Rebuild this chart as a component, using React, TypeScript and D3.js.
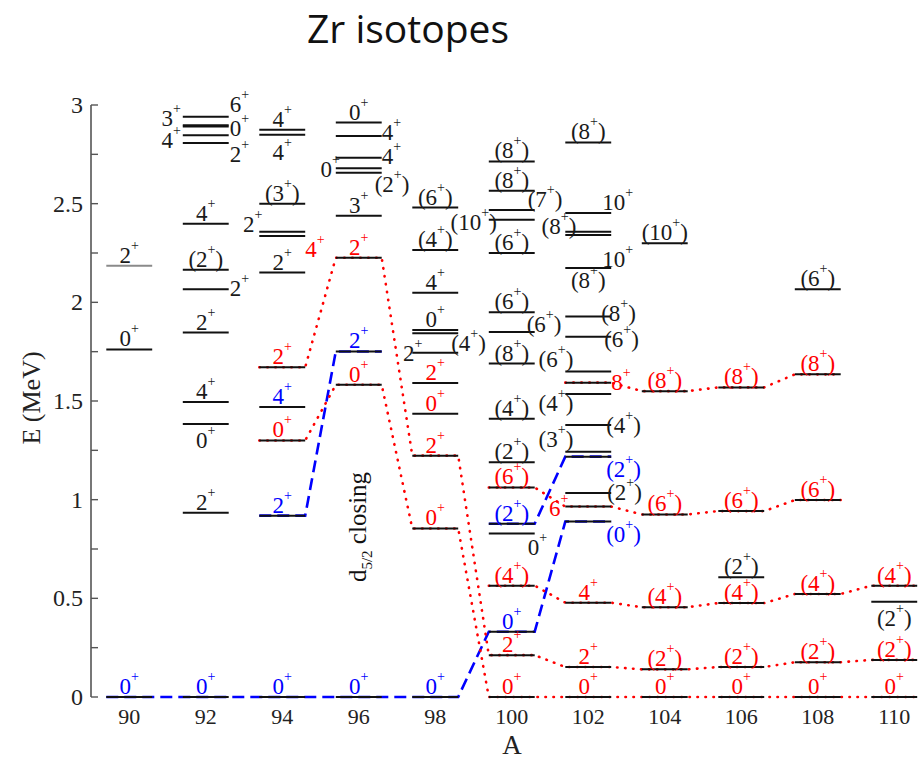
import React from "react";
import * as d3 from "d3";

type Band = "k" | "r" | "b";
type Level = [number, number, string, Band];
type Side = "a" | "b" | "l" | "r";

// Mass numbers along the horizontal axis
const massNumbers = [90, 92, 94, 96, 98, 100, 102, 104, 106, 108, 110];
const energyTicks = [0, 0.5, 1, 1.5, 2, 2.5, 3];

// Level energies (MeV), spin-parity and band colour per isotope
const zr90: Level[] = [
  [90, 0, "0+", "b"],
  [90, 1.761, "0+", "k"],
  [90, 2.186, "2+", "k"],
];
const zr92: Level[] = [
  [92, 0, "0+", "b"],
  [92, 0.934, "2+", "k"],
  [92, 1.383, "0+", "k"],
  [92, 1.495, "4+", "k"],
  [92, 1.847, "2+", "k"],
  [92, 2.066, "2+", "k"],
  [92, 2.165, "(2+)", "k"],
  [92, 2.398, "4+", "k"],
  [92, 2.807, "2+", "k"],
  [92, 2.847, "4+", "k"],
  [92, 2.891, "0+", "k"],
  [92, 2.897, "3+", "k"],
  [92, 2.941, "6+", "k"],
];
const zr94: Level[] = [
  [94, 0, "0+", "b"],
  [94, 0.919, "2+", "b"],
  [94, 1.3, "0+", "r"],
  [94, 1.47, "4+", "b"],
  [94, 1.671, "2+", "r"],
  [94, 2.151, "2+", "k"],
  [94, 2.336, "4+", "r"],
  [94, 2.358, "2+", "k"],
  [94, 2.5, "(3+)", "k"],
  [94, 2.849, "4+", "k"],
  [94, 2.874, "4+", "k"],
];
const zr96: Level[] = [
  [96, 0, "0+", "b"],
  [96, 1.582, "0+", "r"],
  [96, 1.751, "2+", "b"],
  [96, 2.226, "2+", "r"],
  [96, 2.439, "3+", "k"],
  [96, 2.657, "(2+)", "k"],
  [96, 2.679, "0+", "k"],
  [96, 2.733, "4+", "k"],
  [96, 2.843, "4+", "k"],
  [96, 2.911, "0+", "k"],
];
const zr98: Level[] = [
  [98, 0, "0+", "b"],
  [98, 0.854, "0+", "r"],
  [98, 1.223, "2+", "r"],
  [98, 1.436, "0+", "r"],
  [98, 1.591, "2+", "r"],
  [98, 1.744, "2+", "k"],
  [98, 1.843, "(4+)", "k"],
  [98, 1.86, "0+", "k"],
  [98, 2.048, "4+", "k"],
  [98, 2.265, "(4+)", "k"],
  [98, 2.48, "(6+)", "k"],
];
const zr100: Level[] = [
  [100, 0, "0+", "r"],
  [100, 0.212, "2+", "r"],
  [100, 0.331, "0+", "b"],
  [100, 0.564, "(4+)", "r"],
  [100, 0.829, "0+", "k"],
  [100, 0.878, "(2+)", "b"],
  [100, 1.062, "(6+)", "r"],
  [100, 1.19, "(2+)", "k"],
  [100, 1.41, "(4+)", "k"],
  [100, 1.69, "(8+)", "k"],
  [100, 1.85, "(6+)", "k"],
  [100, 1.95, "(6+)", "k"],
  [100, 2.25, "(6+)", "k"],
  [100, 2.418, "(10+)", "k"],
  [100, 2.468, "(7+)", "k"],
  [100, 2.565, "(8+)", "k"],
  [100, 2.714, "(8+)", "k"],
];
const zr102: Level[] = [
  [102, 0, "0+", "r"],
  [102, 0.152, "2+", "r"],
  [102, 0.478, "4+", "r"],
  [102, 0.889, "(0+)", "b"],
  [102, 0.965, "6+", "r"],
  [102, 1.034, "(2+)", "k"],
  [102, 1.218, "(2+)", "b"],
  [102, 1.243, "(3+)", "k"],
  [102, 1.379, "(4+)", "k"],
  [102, 1.535, "(4+)", "k"],
  [102, 1.593, "8+", "r"],
  [102, 1.649, "(6+)", "k"],
  [102, 1.826, "(6+)", "k"],
  [102, 1.928, "(8+)", "k"],
  [102, 2.174, "(8+)", "k"],
  [102, 2.341, "10+", "k"],
  [102, 2.358, "(8+)", "k"],
  [102, 2.453, "10+", "k"],
  [102, 2.81, "(8+)", "k"],
];
const zr104: Level[] = [
  [104, 0, "0+", "r"],
  [104, 0.14, "(2+)", "r"],
  [104, 0.455, "(4+)", "r"],
  [104, 0.925, "(6+)", "r"],
  [104, 1.55, "(8+)", "r"],
  [104, 2.3, "(10+)", "k"],
];
const zr106: Level[] = [
  [106, 0, "0+", "r"],
  [106, 0.152, "(2+)", "r"],
  [106, 0.476, "(4+)", "r"],
  [106, 0.607, "(2+)", "k"],
  [106, 0.942, "(6+)", "r"],
  [106, 1.569, "(8+)", "r"],
];
const zr108: Level[] = [
  [108, 0, "0+", "r"],
  [108, 0.176, "(2+)", "r"],
  [108, 0.522, "(4+)", "r"],
  [108, 0.998, "(6+)", "r"],
  [108, 1.635, "(8+)", "r"],
  [108, 2.066, "(6+)", "k"],
];
const zr110: Level[] = [
  [110, 0, "0+", "r"],
  [110, 0.188, "(2+)", "r"],
  [110, 0.483, "(2+)", "k"],
  [110, 0.564, "(4+)", "r"],
];

// Spherical configuration (blue, dashed)
const blueChains: [number, number][][] = [
  [[90, 0], [92, 0], [94, 0], [96, 0], [98, 0], [100, 0.331], [102, 0.889]],
  [[94, 0.919], [96, 1.751]],
  [[100, 0.878], [102, 1.218]],
];
// Deformed configuration (red, dotted)
const redChains: [number, number][][] = [
  [[94, 1.3], [96, 1.582], [98, 0.854], [100, 0], [102, 0], [104, 0], [106, 0], [108, 0], [110, 0]],
  [[94, 1.671], [96, 2.226], [98, 1.223], [100, 0.212], [102, 0.152], [104, 0.14], [106, 0.152], [108, 0.176], [110, 0.188]],
  [[100, 0.564], [102, 0.478], [104, 0.455], [106, 0.476], [108, 0.522], [110, 0.564]],
  [[100, 1.062], [102, 0.965], [104, 0.925], [106, 0.942], [108, 0.998]],
  [[102, 1.593], [104, 1.55], [106, 1.569], [108, 1.635]],
];

const allLevels: Level[] = [
  ...zr90, ...zr92, ...zr94, ...zr96, ...zr98, ...zr100,
  ...zr102, ...zr104, ...zr106, ...zr108, ...zr110,
];

// Label placement overrides: side, dx, baseline offset from the level line
const labelSpots: Record<string, [Side, number, number]> = {
  "92:1.383": ["b", 0, 24],
  "92:2.066": ["r", 1, 7],
  "92:2.807": ["r", 1, 19],
  "92:2.847": ["l", -2, 13],
  "92:2.891": ["r", 1, 9],
  "92:2.897": ["l", -2, 1],
  "92:2.941": ["r", 1, -5],
  "94:2.336": ["r", 0, 21],
  "94:2.358": ["l", 3, 0],
  "94:2.849": ["b", 0, 25],
  "96:2.657": ["r", -7, 19],
  "96:2.679": ["l", 4, 9],
  "96:2.733": ["r", 0, 6],
  "96:2.843": ["r", 0, 4],
  "98:1.744": ["l", 10, 8],
  "98:1.843": ["r", -7, 18],
  "100:0.829": ["r", -7, 22],
  "100:1.85": ["r", -8, 0],
  "100:2.418": ["l", 8, 10],
  "100:2.468": ["r", -7, -3],
  "102:0.889": ["r", -5, 20],
  "102:0.965": ["l", 3, 9],
  "102:1.034": ["r", -4, 7],
  "102:1.218": ["r", -5, 20],
  "102:1.243": ["l", 8, -5],
  "102:1.379": ["r", -5, 8],
  "102:1.535": ["l", 8, 17],
  "102:1.593": ["r", 0, 7],
  "102:1.649": ["l", 8, -5],
  "102:1.826": ["r", -7, 10],
  "102:1.928": ["r", -10, 4],
  "102:2.174": ["b", 0, 20],
  "102:2.341": ["r", -9, 32],
  "102:2.358": ["l", 11, 2],
  "102:2.453": ["r", -9, -3],
  "110:0.483": ["b", 0, 24],
};
const fadedLevels = new Set(["90:2.186"]);

const W = 922;
const H = 761;
const HALF = 0.6; // half width of a level line, in mass units
const SERIF = "'Liberation Serif', 'Times New Roman', serif";
const bandColor: Record<Band, string> = { k: "#1a1a1a", r: "#ff0000", b: "#0000ff" };

const x = d3.scaleLinear().domain([89, 111]).range([91, 932.5]);
const y = d3.scaleLinear().domain([0, 3]).range([697, 105]);

const chainLine = d3
  .line<[number, number]>()
  .x((d) => d[0])
  .y((d) => d[1]);

function chainPath(chain: [number, number][]) {
  const pts: [number, number][] = [];
  chain.forEach(([a, e]) => {
    pts.push([x(a - HALF), y(e)]);
    pts.push([x(a + HALF), y(e)]);
  });
  return chainLine(pts) || "";
}

function SpinLabel(props: {
  px: number;
  py: number;
  text: string;
  color: string;
  anchor: "start" | "middle" | "end";
}) {
  const { px, py, text, color, anchor } = props;
  const i = text.indexOf("+");
  const head = text.slice(0, i);
  const tail = text.slice(i + 1);
  return (
    <text x={px} y={py} fill={color} textAnchor={anchor} fontFamily={SERIF} fontSize={23}>
      {head}
      <tspan fontSize={14} dy={-13}>+</tspan>
      {tail ? <tspan dy={13}>{tail}</tspan> : null}
    </text>
  );
}

export default function App() {
  const minorTicks = d3.range(0, 3.001, 0.25);
  return (
    <svg
      width={W}
      height={H}
      viewBox={`0 0 ${W} ${H}`}
      style={{ position: "absolute", left: 0, top: 0, background: "#fff" }}
    >
      <text x={408} y={43} textAnchor="middle" fontFamily="'Open Sans', sans-serif" fontSize={39} fill="#111">
        Zr isotopes
      </text>

      {/* energy axis */}
      <line x1={91} x2={91} y1={y(0)} y2={y(3)} stroke="#555" strokeWidth={1.6} />
      {minorTicks.map((t) => (
        <line key={t} x1={91} x2={98} y1={y(t)} y2={y(t)} stroke="#555" strokeWidth={1.4} />
      ))}
      {energyTicks.map((t) => (
        <text key={t} x={83} y={y(t) + 8} textAnchor="end" fontFamily={SERIF} fontSize={24} fill="#222">
          {String(t)}
        </text>
      ))}
      <text
        transform={`translate(40,398) rotate(-90)`}
        textAnchor="middle"
        fontFamily={SERIF}
        fontSize={26}
        fill="#222"
      >
        E (MeV)
      </text>

      {massNumbers.map((a) => (
        <text key={a} x={x(a)} y={724} textAnchor="middle" fontFamily={SERIF} fontSize={22} fill="#222">
          {a}
        </text>
      ))}
      <text x={512} y={754} textAnchor="middle" fontFamily={SERIF} fontSize={27} fill="#222">
        A
      </text>

      {/* configuration links */}
      {blueChains.map((c, i) => (
        <path key={"b" + i} d={chainPath(c)} fill="none" stroke="#0000ff" strokeWidth={2.6} strokeDasharray="12,6" />
      ))}
      {redChains.map((c, i) => (
        <path
          key={"r" + i}
          d={chainPath(c)}
          fill="none"
          stroke="#ff0000"
          strokeWidth={2.6}
          strokeDasharray="0.5,7.5"
          strokeLinecap="round"
        />
      ))}

      {/* levels */}
      {allLevels.map(([a, e]) => {
        const key = `${a}:${e}`;
        return (
          <line
            key={"l" + key}
            x1={x(a - HALF)}
            x2={x(a + HALF)}
            y1={y(e)}
            y2={y(e)}
            stroke={fadedLevels.has(key) ? "#8a8a8a" : "#111"}
            strokeWidth={2}
          />
        );
      })}
      {allLevels.map(([a, e, spin, band]) => {
        const key = `${a}:${e}`;
        const [side, dx, dy] = labelSpots[key] || ["a", 0, -3];
        let px = x(a) + dx;
        let anchor: "start" | "middle" | "end" = "middle";
        if (side === "r") {
          px = x(a + HALF) + dx;
          anchor = "start";
        } else if (side === "l") {
          px = x(a - HALF) + dx;
          anchor = "end";
        }
        return (
          <SpinLabel key={"t" + key} px={px} py={y(e) + dy} text={spin} color={bandColor[band]} anchor={anchor} />
        );
      })}

      <text
        transform={`translate(366,527) rotate(-90)`}
        textAnchor="middle"
        fontFamily={SERIF}
        fontSize={25}
        fill="#111"
      >
        d
        <tspan fontSize={15} dy={6}>5/2</tspan>
        <tspan dy={-6}> closing</tspan>
      </text>
    </svg>
  );
}
